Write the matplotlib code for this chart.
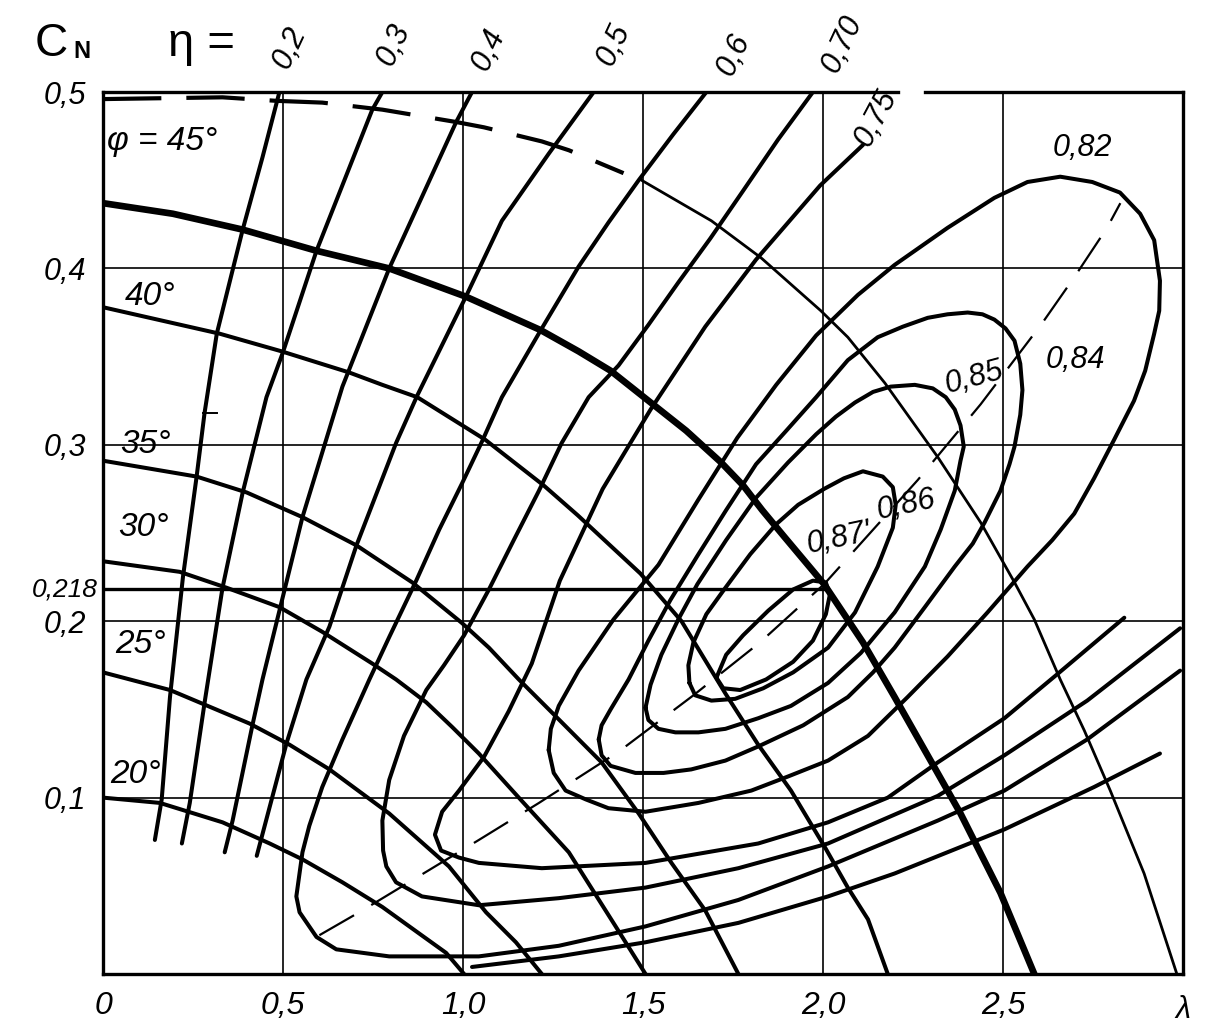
import matplotlib
matplotlib.use("Agg")
import matplotlib.pyplot as plt

plt.rcParams['font.family'] = ['Liberation Sans', 'DejaVu Sans']

# phi = const curves (C_N over lambda)
phi45_x = [0, 0.194, 0.388, 0.593, 0.795, 1.008, 1.216, 1.321, 1.410, 1.515, 1.620, 1.717, 1.778, 1.831,
           1.892, 2.003, 2.111, 2.199, 2.310, 2.382, 2.493, 2.587]
phi45_y = [0.437, 0.431, 0.422, 0.410, 0.400, 0.384, 0.365, 0.353, 0.342, 0.325, 0.308, 0.290, 0.277, 0.263,
           0.248, 0.221, 0.188, 0.157, 0.117, 0.091, 0.046, 0.0]
phi40_x = [0, 0.324, 0.496, 0.684, 0.776, 0.873, 1.061, 1.224, 1.319, 1.493, 1.607, 1.729, 1.820, 1.911,
           2.005, 2.069, 2.125, 2.180]
phi40_y = [0.378, 0.363, 0.353, 0.341, 0.334, 0.327, 0.303, 0.277, 0.260, 0.227, 0.200, 0.159, 0.130, 0.104,
           0.072, 0.049, 0.031, 0.0]
phi35_x = [0, 0.260, 0.399, 0.554, 0.704, 0.859, 0.997, 1.072, 1.155, 1.258, 1.385, 1.488, 1.579, 1.673, 1.765]
phi35_y = [0.291, 0.282, 0.273, 0.259, 0.243, 0.222, 0.199, 0.185, 0.167, 0.146, 0.120, 0.091, 0.063, 0.036, 0.0]
phi30_x = [0, 0.213, 0.343, 0.490, 0.609, 0.748, 0.814, 0.898, 0.970, 1.044, 1.155, 1.294, 1.424, 1.507]
phi30_y = [0.234, 0.228, 0.219, 0.208, 0.194, 0.176, 0.167, 0.154, 0.140, 0.125, 0.100, 0.069, 0.027, 0.0]
phi25_x = [0, 0.186, 0.407, 0.518, 0.629, 0.795, 0.961, 1.064, 1.147, 1.219]
phi25_y = [0.171, 0.161, 0.142, 0.130, 0.116, 0.091, 0.061, 0.035, 0.018, 0.0]
phi20_x = [0, 0.158, 0.332, 0.463, 0.554, 0.665, 0.776, 0.878, 0.953, 1.003]
phi20_y = [0.100, 0.097, 0.086, 0.074, 0.065, 0.052, 0.038, 0.023, 0.012, 0.0]
phi50d_x = [0, 0.332, 0.482, 0.609, 0.776, 0.981, 1.058, 1.219, 1.294, 1.446]
phi50d_y = [0.496, 0.497, 0.495, 0.494, 0.490, 0.483, 0.480, 0.472, 0.467, 0.454]
phi50_x = [1.496, 1.690, 1.828, 1.994, 2.069, 2.172, 2.319, 2.438, 2.532, 2.587, 2.659, 2.726, 2.798, 2.892, 2.983]
phi50_y = [0.450, 0.427, 0.406, 0.376, 0.361, 0.335, 0.293, 0.256, 0.222, 0.201, 0.167, 0.138, 0.104, 0.057, 0.0]

# eta = const curves
eta02_x = [0.144, 0.163, 0.186, 0.222, 0.260, 0.282, 0.316, 0.388, 0.443, 0.490]
eta02_y = [0.076, 0.099, 0.157, 0.225, 0.282, 0.318, 0.363, 0.422, 0.463, 0.5]
eta03_x = [0.219, 0.241, 0.283, 0.332, 0.388, 0.454, 0.499, 0.593, 0.748, 0.776]
eta03_y = [0.074, 0.097, 0.155, 0.219, 0.273, 0.327, 0.352, 0.410, 0.490, 0.5]
eta04_x = [0.338, 0.360, 0.416, 0.443, 0.554, 0.665, 0.795, 0.981, 1.025]
eta04_y = [0.069, 0.087, 0.142, 0.167, 0.259, 0.333, 0.400, 0.483, 0.5]
eta05_x = [0.427, 0.510, 0.565, 0.629, 0.704, 0.814, 0.873, 1.008, 1.108, 1.238, 1.363]
eta05_y = [0.067, 0.131, 0.167, 0.197, 0.243, 0.301, 0.328, 0.384, 0.427, 0.465, 0.5]
eta06_x = [1.676, 1.584, 1.488, 1.404, 1.321, 1.216, 1.108, 1.053, 0.997, 0.934, 0.870, 0.795, 0.740,
           0.665, 0.609, 0.573, 0.554, 0.537, 0.546, 0.593, 0.648, 0.795, 1.044, 1.266, 1.507, 1.765,
           2.014, 2.319, 2.504, 2.734, 2.992]
eta06_y = [0.5, 0.476, 0.450, 0.426, 0.401, 0.365, 0.327, 0.302, 0.278, 0.252, 0.223, 0.191, 0.167,
           0.133, 0.106, 0.084, 0.069, 0.044, 0.035, 0.021, 0.014, 0.010, 0.010, 0.016, 0.027, 0.042,
           0.061, 0.087, 0.104, 0.133, 0.172]
eta070_x = [1.972, 1.875, 1.778, 1.687, 1.598, 1.515, 1.432, 1.349, 1.274, 1.211, 1.141, 1.072, 1.003,
            0.947, 0.898, 0.836, 0.795, 0.776, 0.778, 0.787, 0.814, 0.886, 1.044, 1.266, 1.507, 1.765,
            2.014, 2.319, 2.504, 2.734, 2.992]
eta070_y = [0.5, 0.473, 0.444, 0.417, 0.392, 0.368, 0.345, 0.327, 0.301, 0.274, 0.246, 0.218, 0.192,
            0.175, 0.161, 0.135, 0.110, 0.087, 0.070, 0.061, 0.052, 0.044, 0.039, 0.043, 0.049, 0.060,
            0.074, 0.101, 0.124, 0.155, 0.196]
eta075_x = [2.111, 1.992, 1.814, 1.673, 1.521, 1.388, 1.269, 1.191, 1.127, 1.058, 0.989, 0.942,
            0.922, 0.939, 0.989, 1.044, 1.219, 1.507, 1.820, 2.014, 2.180, 2.319, 2.504, 2.651, 2.837]
eta075_y = [0.470, 0.447, 0.405, 0.367, 0.320, 0.275, 0.223, 0.176, 0.149, 0.123, 0.104, 0.092,
            0.079, 0.070, 0.066, 0.063, 0.060, 0.063, 0.074, 0.086, 0.100, 0.120, 0.145, 0.170, 0.202]
eta082_x = [1.238, 1.252, 1.285, 1.341, 1.404, 1.507, 1.654, 1.801, 1.903, 2.014, 2.125, 2.235, 2.346,
            2.457, 2.568, 2.637, 2.698, 2.753, 2.809, 2.864, 2.895, 2.920, 2.934, 2.936, 2.920, 2.881,
            2.825, 2.748, 2.659, 2.568, 2.476, 2.346, 2.199, 2.097, 1.981, 1.870, 1.762, 1.654, 1.543,
            1.418, 1.321, 1.266, 1.244, 1.238]
eta082_y = [0.127, 0.114, 0.104, 0.099, 0.094, 0.092, 0.097, 0.104, 0.112, 0.121, 0.135, 0.157, 0.180,
            0.205, 0.231, 0.246, 0.261, 0.281, 0.303, 0.325, 0.342, 0.363, 0.376, 0.393, 0.416, 0.431,
            0.443, 0.449, 0.452, 0.449, 0.440, 0.423, 0.402, 0.385, 0.362, 0.334, 0.304, 0.269, 0.232,
            0.201, 0.172, 0.152, 0.139, 0.127]
eta084_x = [1.377, 1.385, 1.410, 1.479, 1.557, 1.634, 1.729, 1.820, 1.945, 2.069, 2.139, 2.199, 2.283,
            2.366, 2.416, 2.449, 2.493, 2.518, 2.532, 2.548, 2.554, 2.548, 2.532, 2.507, 2.476, 2.443,
            2.402, 2.346, 2.291, 2.222, 2.152, 2.069, 1.981, 1.898, 1.814, 1.731, 1.651, 1.576, 1.515,
            1.460, 1.410, 1.385, 1.377]
eta084_y = [0.133, 0.124, 0.118, 0.114, 0.114, 0.116, 0.121, 0.129, 0.141, 0.157, 0.171, 0.185, 0.208,
            0.231, 0.244, 0.256, 0.274, 0.289, 0.299, 0.317, 0.331, 0.346, 0.359, 0.366, 0.371, 0.374,
            0.375, 0.374, 0.372, 0.367, 0.361, 0.348, 0.327, 0.308, 0.289, 0.263, 0.237, 0.212, 0.189,
            0.167, 0.150, 0.141, 0.133]
eta085_x = [1.507, 1.515, 1.543, 1.590, 1.654, 1.729, 1.820, 1.911, 2.014, 2.105, 2.199, 2.283, 2.327,
            2.366, 2.382, 2.391, 2.382, 2.366, 2.341, 2.305, 2.255, 2.188, 2.139, 2.089, 2.036, 1.981,
            1.903, 1.814, 1.731, 1.651, 1.598, 1.551, 1.521, 1.507]
eta085_y = [0.151, 0.144, 0.139, 0.137, 0.137, 0.139, 0.145, 0.152, 0.165, 0.182, 0.205, 0.231, 0.252,
            0.274, 0.291, 0.299, 0.311, 0.320, 0.327, 0.332, 0.334, 0.333, 0.330, 0.324, 0.316, 0.306,
            0.290, 0.270, 0.246, 0.221, 0.201, 0.181, 0.164, 0.151]
eta086_x = [1.629, 1.645, 1.690, 1.756, 1.834, 1.917, 2.014, 2.089, 2.152, 2.194, 2.202, 2.194, 2.166,
            2.111, 2.058, 2.003, 1.931, 1.870, 1.798, 1.729, 1.676, 1.640, 1.626, 1.629]
eta086_y = [0.165, 0.158, 0.155, 0.156, 0.162, 0.171, 0.185, 0.205, 0.231, 0.253, 0.266, 0.276, 0.282,
            0.285, 0.281, 0.275, 0.266, 0.255, 0.238, 0.219, 0.204, 0.188, 0.175, 0.165]
eta087_x = [1.704, 1.723, 1.770, 1.842, 1.917, 1.972, 2.008, 2.019, 2.008, 1.972, 1.917, 1.848, 1.778,
            1.731, 1.704]
eta087_y = [0.168, 0.162, 0.161, 0.167, 0.177, 0.189, 0.204, 0.215, 0.222, 0.223, 0.218, 0.206, 0.192,
            0.181, 0.168]
eta_low_x = [1.025, 1.266, 1.507, 1.765, 2.014, 2.199, 2.504, 2.753, 2.936]
eta_low_y = [0.004, 0.010, 0.018, 0.029, 0.044, 0.057, 0.082, 0.106, 0.125]

# optimum (dashed) line
opt_x = [0.601, 0.720, 1.044, 1.211, 1.432, 1.640, 1.825, 2.003, 2.263, 2.438, 2.609, 2.698, 2.789, 2.826]
opt_y = [0.022, 0.036, 0.076, 0.097, 0.126, 0.158, 0.188, 0.221, 0.280, 0.323, 0.369, 0.395, 0.423, 0.437]

design_cn = 0.218
design_lam = 2.0

# small hand mark beside the 35 deg label
mark_x = [0.277, 0.316]
mark_y = [0.318, 0.318]

x_ticks = [0, 0.5, 1.0, 1.5, 2.0, 2.5]
x_labels = ['0', '0,5', '1,0', '1,5', '2,0', '2,5']
y_ticks = [0.1, 0.2, 0.3, 0.4, 0.5]
y_labels = ['0,1', '0,2', '0,3', '0,4', '0,5']

fig = plt.figure(figsize=(12.25, 10.34), dpi=100)
ax = fig.add_axes([0.0841, 0.058, 0.8816, 0.853])
ax.set_xlim(0, 3.0)
ax.set_ylim(0, 0.5)

for xv in x_ticks[1:]:
    ax.axvline(xv, color='black', lw=1.2, zorder=1)
for yv in y_ticks[:-1]:
    ax.axhline(yv, color='black', lw=1.2, zorder=1)

k = dict(color='black', solid_capstyle='round', solid_joinstyle='round', zorder=3)
ax.plot(phi45_x, phi45_y, lw=4.8, **k)
for xs, ys in [(phi40_x, phi40_y), (phi35_x, phi35_y), (phi30_x, phi30_y),
               (phi25_x, phi25_y), (phi20_x, phi20_y)]:
    ax.plot(xs, ys, lw=2.9, **k)
ax.plot(phi50d_x, phi50d_y, lw=3.0, color='black', dashes=(14, 6), zorder=3)
ax.plot(phi50_x, phi50_y, lw=2.0, **k)

for xs, ys in [(eta02_x, eta02_y), (eta03_x, eta03_y), (eta04_x, eta04_y), (eta05_x, eta05_y),
               (eta06_x, eta06_y), (eta070_x, eta070_y), (eta075_x, eta075_y),
               (eta082_x, eta082_y), (eta084_x, eta084_y), (eta085_x, eta085_y),
               (eta086_x, eta086_y), (eta087_x, eta087_y), (eta_low_x, eta_low_y)]:
    ax.plot(xs, ys, lw=2.9, **k)

ax.plot(opt_x, opt_y, lw=1.6, color='black', dashes=(18, 9), zorder=3)
ax.plot([0, design_lam], [design_cn, design_cn], lw=2.4, color='black', zorder=3)
ax.plot(mark_x, mark_y, lw=1.4, color='black', zorder=3)

# frame, top edge broken near lambda = 2.2
for side in ['left', 'right', 'bottom']:
    ax.spines[side].set_linewidth(2.4)
ax.spines['top'].set_visible(False)
ax.plot([0, 2.208], [0.5, 0.5], lw=2.4, color='black', clip_on=False, zorder=4)
ax.plot([2.283, 3.0], [0.5, 0.5], lw=2.4, color='black', clip_on=False, zorder=4)

fs = 22
ax.set_xticks(x_ticks)
ax.set_xticklabels(x_labels, fontsize=23, style='italic')
ax.set_yticks(y_ticks)
ax.set_yticklabels(y_labels, fontsize=fs, style='italic')
ax.tick_params(length=0, pad=12)
ax.text(3.0, -0.012, 'λ', fontsize=fs, style='italic', ha='center', va='top')
ax.text(-0.015, design_cn, '0,218', fontsize=19, style='italic', ha='right', va='center')

lab = dict(fontsize=fs, style='italic', color='black')
ax.text(-0.19, 0.527, 'C', fontsize=33, ha='left', va='center')
ax.text(-0.083, 0.523, 'N', fontsize=17, ha='left', va='center', fontweight='bold')
ax.text(0.18, 0.527, 'η =', fontsize=34, ha='left', va='center')
for xv, yv, txt in [(0.518, 0.525, '0,2'), (0.809, 0.527, '0,3'), (1.072, 0.524, '0,4'),
                    (1.418, 0.527, '0,5'), (1.751, 0.521, '0,6'), (2.055, 0.527, '0,70')]:
    ax.text(xv, yv, txt, rotation=65, ha='center', va='center', **lab)
ax.text(2.147, 0.485, '0,75', rotation=62, ha='center', va='center', **lab)
ax.text(2.72, 0.468, '0,82', ha='center', va='center', **lab)
ax.text(2.70, 0.348, '0,84', ha='center', va='center', **lab)
ax.text(2.42, 0.338, '0,85', rotation=15, ha='center', va='center', **lab)
ax.text(2.23, 0.266, '0,86', rotation=12, ha='center', va='center', **lab)
ax.text(2.045, 0.247, "0,87'", rotation=12, ha='center', va='center', **lab)

phl = dict(fontsize=24, style='italic', color='black', ha='left', va='center')
ax.text(0.01, 0.472, 'φ = 45°', **phl)
ax.text(0.061, 0.384, '40°', **phl)
ax.text(0.047, 0.300, '35°', **phl)
ax.text(0.042, 0.253, '30°', **phl)
ax.text(0.033, 0.187, '25°', **phl)
ax.text(0.019, 0.113, '20°', **phl)

fig.savefig('out.png', dpi=100)
